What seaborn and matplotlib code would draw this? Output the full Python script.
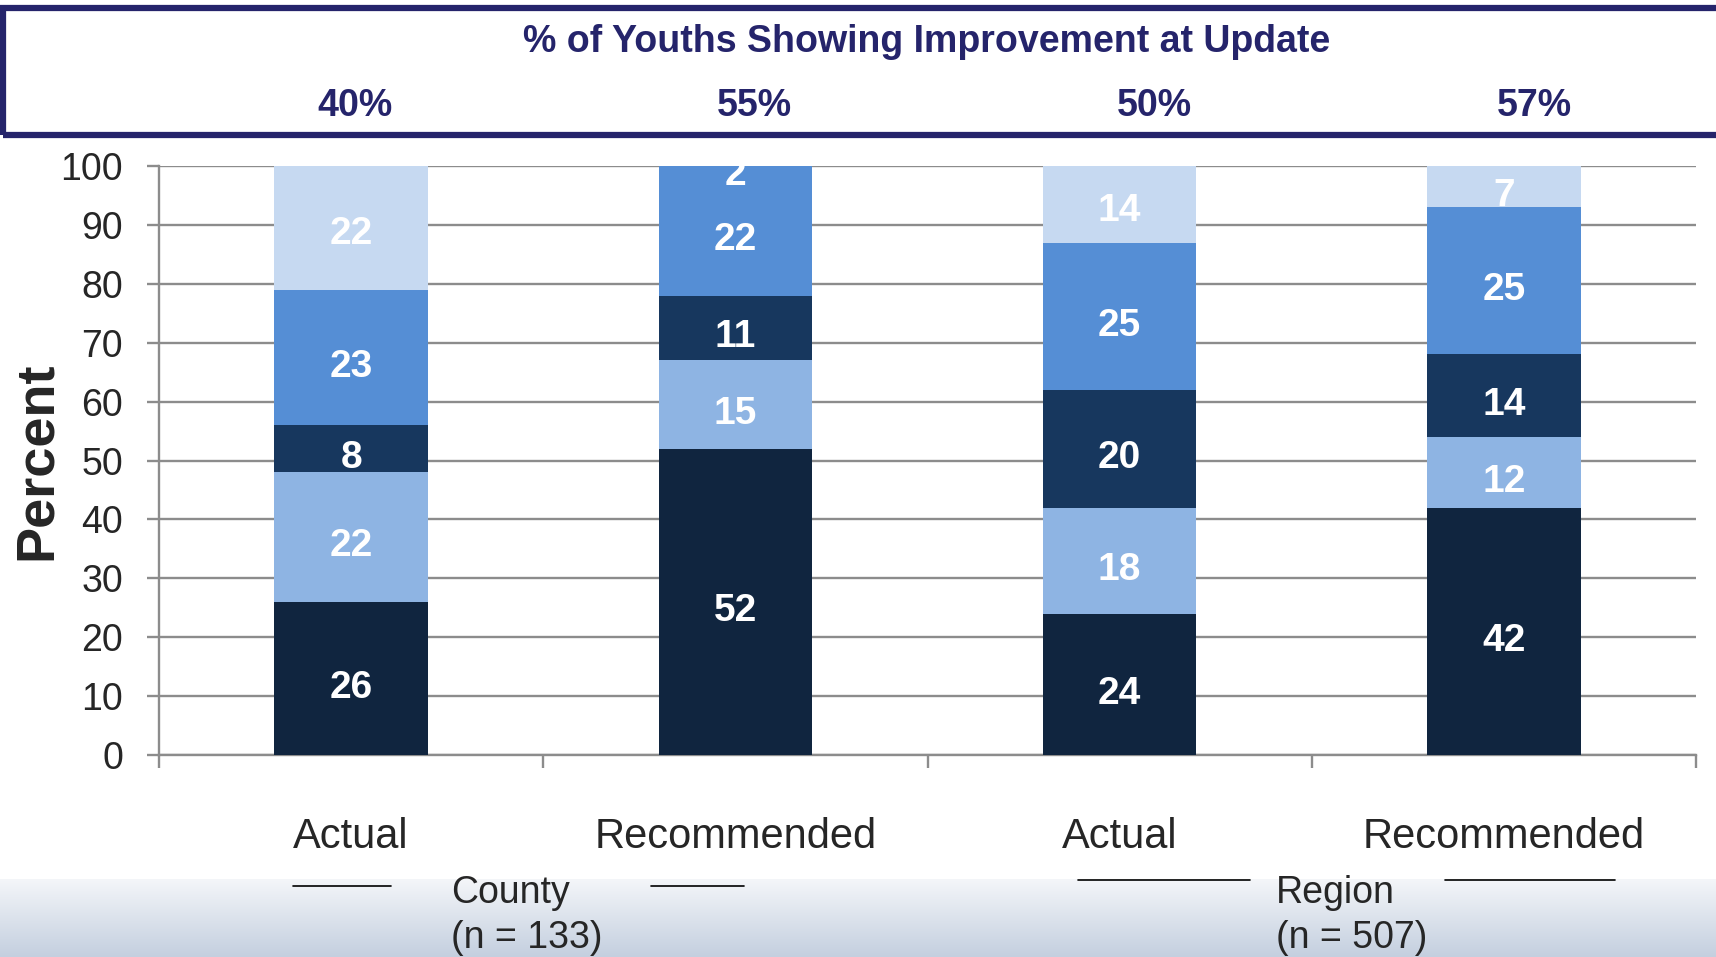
import numpy as np
import pandas as pd
import matplotlib
matplotlib.use("Agg")
import matplotlib.pyplot as plt
import matplotlib.transforms as mtransforms
from matplotlib.patches import Rectangle
from matplotlib.lines import Line2D
import seaborn as sns

# Data
bars = ["County Actual", "County Recommended", "Region Actual", "Region Recommended"]
tick_labels = ["Actual", "Recommended", "Actual", "Recommended"]
layer1 = [26, 52, 24, 42]   # bottom
layer2 = [22, 15, 18, 12]
layer3 = [8, 11, 20, 14]
layer4 = [23, 22, 25, 25]
layer5 = [22, 2, 14, 7]     # top
improvement = ["40%", "55%", "50%", "57%"]
groups = ["County\n(n = 133)", "Region\n(n = 507)"]

layers = [layer1, layer2, layer3, layer4, layer5]
colors = ["#10253f", "#8eb4e3", "#17375e", "#558ed5", "#c6d9f1"]
navy = "#25246b"
grid_grey = "#8c8c8c"

sns.set_style("white")
plt.rcParams["font.family"] = ["Liberation Sans", "DejaVu Sans"]

df = pd.DataFrame({"bar": bars})
cum = np.cumsum(np.array(layers), axis=0)

fig = plt.figure(figsize=(17.16, 9.57), dpi=100)

# bottom gradient band
gax = fig.add_axes([0, 0, 1, 78 / 957], zorder=0)
grad = np.linspace(0, 1, 100)[:, None]
top_c = np.array([244, 246, 249]) / 255
bot_c = np.array([196, 207, 223]) / 255
img = top_c[None, None, :] * (1 - grad[:, :, None]) + bot_c[None, None, :] * grad[:, :, None]
gax.imshow(np.repeat(img, 2, axis=1), aspect="auto", extent=[0, 1, 0, 1])
gax.axis("off")

ax = fig.add_axes([159 / 1716, 1 - 755 / 957, 1537 / 1716, 589 / 957], zorder=2)
ax.set_facecolor("white")

# stacked bars: draw cumulative totals from top layer down
for i in range(len(layers) - 1, -1, -1):
    df["cum"] = cum[i]
    sns.barplot(data=df, x="bar", y="cum", color=colors[i], width=0.4,
                saturation=1, ax=ax, zorder=3, linewidth=0)

for i, vals in enumerate(layers):
    for j, v in enumerate(vals):
        yc = min(cum[i][j] - v / 2 - 1.6, 98.4)
        ax.text(j, yc, str(v), ha="center", va="center", color="white",
                fontsize=28, fontweight="bold", zorder=4)

ax.set_ylim(0, 100)
ax.set_xlim(-0.5, 3.5)
ax.set_yticks(np.arange(0, 101, 10))
ax.yaxis.grid(True, color=grid_grey, linewidth=1.7, zorder=0)
ax.set_axisbelow(True)
ax.tick_params(axis="y", which="major", direction="out", length=9, width=1.7,
               color=grid_grey, labelsize=27, pad=17, left=True)
ax.set_xticks(range(4))
ax.set_xticklabels(tick_labels, fontsize=30)
ax.tick_params(axis="x", which="major", length=0, pad=45)
ax.set_xticks(np.arange(-0.5, 4, 1), minor=True)
ax.tick_params(axis="x", which="minor", direction="out", length=9, width=1.7,
               color=grid_grey, bottom=True)
ax.set_xlabel("")
ax.set_ylabel("Percent", fontsize=39, fontweight="bold")
ax.yaxis.set_label_coords(-0.063, 0.5)
for side in ["top", "right"]:
    ax.spines[side].set_visible(False)
for side in ["left", "bottom"]:
    ax.spines[side].set_color(grid_grey)
    ax.spines[side].set_linewidth(1.7)

# header box
fig.patches.append(Rectangle((3 / 1716, 1 - 135 / 957), 1.2, 127 / 957,
                             transform=fig.transFigure, fill=False,
                             edgecolor=navy, linewidth=4.5, zorder=5))
fig.text(0.54, 1 - 42 / 957, "% of Youths Showing Improvement at Update",
         ha="center", va="center", color=navy, fontsize=27, fontweight="bold")
trans = mtransforms.blended_transform_factory(ax.transData, fig.transFigure)
for j, (s, dx) in enumerate(zip(improvement, [0.01, 0.05, 0.09, 0.08])):
    fig.text(j + dx, 1 - 106 / 957, s, ha="center", va="center", color=navy,
             fontsize=27, fontweight="bold", transform=trans)

# group labels with side rules
for (x0, y_line, segs), label in zip(
        [(451, 886, [(293, 391), (651, 744)]), (1276, 880, [(1078, 1250), (1445, 1615)])],
        groups):
    first, second = label.split("\n")
    fig.text(x0 / 1716, 1 - 893 / 957, first, ha="left", va="center", fontsize=27)
    fig.text(x0 / 1716, 1 - 938 / 957, second, ha="left", va="center", fontsize=27)
    for a, b in segs:
        fig.add_artist(Line2D([a / 1716, b / 1716], [1 - y_line / 957] * 2,
                              color="black", linewidth=1.2))

plt.savefig("out.png", dpi=100)
